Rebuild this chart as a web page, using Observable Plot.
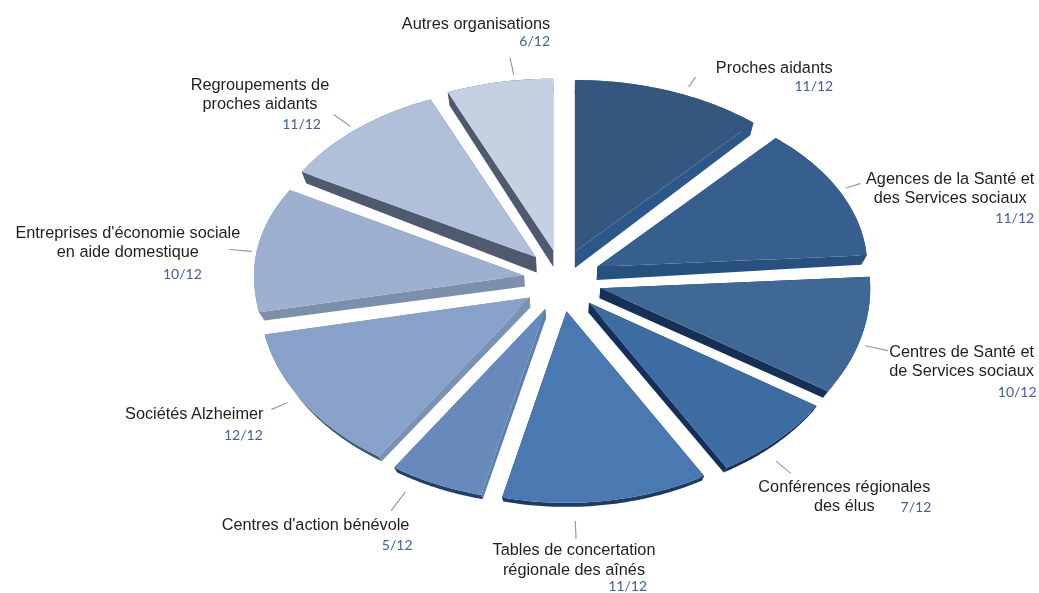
<!DOCTYPE html>
<html lang="fr">
<head>
<meta charset="utf-8">
<script src="https://cdn.jsdelivr.net/npm/d3@7"></script>
<script src="https://cdn.jsdelivr.net/npm/@observablehq/plot@0.6"></script>
<style>
html,body{margin:0;padding:0;background:#fff}
svg{display:block;filter:blur(.35px)}
</style>
</head>
<body>
<div id="chart"></div>
<script>
const names = [
  "Proches aidants",
  "Agences de la Santé et\ndes Services sociaux",
  "Centres de Santé et\nde Services sociaux",
  "Conférences régionales\ndes élus",
  "Tables de concertation\nrégionale des aînés",
  "Centres d'action bénévole",
  "Sociétés Alzheimer",
  "Entreprises d'économie sociale\nen aide domestique",
  "Regroupements de\nproches aidants",
  "Autres organisations"
];
const fractions = ["11/12","11/12","10/12","7/12","11/12","5/12","12/12","10/12","11/12","6/12"];
// apparent width of every slice
const shares = [10.8, 11.7, 9.5, 7, 11.6, 5.3, 11.7, 10.7, 9.7, 6];

const faceColors = ["#34567f","#365f8f","#3f6897","#3d6ca3","#4a79b1","#6889bb","#87a1c9","#9eb0cf","#b1c0da","#c5d0e3"];
const cutColors  = ["#2d5789","#27507e","#152f55","#14305a","#1c3c63","#5d7fae","#7a92b5","#7c8fab","#4f5a6e","#4f5a6e"];
const arcColors  = ["#2d5789","#27507e","#2a4f7c","#14305a","#1c3c63","#20406c","#3f5675","#7c8fab","#4f5a6e","#4f5a6e"];

// layout of the tilted, exploded pie and of its labels
const pie = {cx:560, cy:280, R:270, exEast:41, exWest:37, ey:31, kNorth:.635, kSouth:.71};
const leaderAngle = [23.7, 63.5, 107, 140, 178.3, 208.5, 238.6, 277.9, 318, 351.9];
const leaderFrom = [1.05, 1.03, 1.027, 1.08, 1.097, 1.09, 1.052, 1.02, 1.03, 1.034];
const leaderTo = [1.108, 1.088, 1.113, 1.16, 1.186, 1.195, 1.119, 1.10, 1.118, 1.133];
const nameOffset = [[79,-11],[90,3.5],[74,9.5],[54,22.5],[-2,20.5],[-76,14],[-77.5,4],[-102,-8.5],[-74,-21.5],[-34,-35]];
const fracOffset = [[138,9],[174,35],[149,42],[141,34],[71,48],[21,35],[-9,26],[-28,25],[-13,10],[40,-16]];

const rad = d => d * Math.PI / 180;
const total = d3.sum(shares);
const cum = d3.cumsum(shares);
const starts = shares.map((s,i) => (i ? cum[i-1] : 0) * 360 / total);
const ends = shares.map((s,i) => cum[i] * 360 / total);
const mids = starts.map((a,i) => (a + ends[i]) / 2);

function faceAt(i, theta, r) {
  const m = rad(mids[i]), t = rad(theta), Y = r * Math.cos(t), sm = Math.sin(m);
  return {
    x: pie.cx + (sm > 0 ? pie.exEast : pie.exWest) * sm + pie.R * r * Math.sin(t),
    y: pie.cy - pie.ey * Math.cos(m) - pie.R * Y * (Y > 0 ? pie.kNorth : pie.kSouth)
  };
}
function underAt(i, theta, r) {
  const p = faceAt(i, theta, r), m = rad(mids[i]), Y = r * Math.cos(rad(theta));
  const dy = 9 + 5 * Y + (1 - r) * (1 + 7 * Math.max(0, Math.cos(m)));
  return {x: p.x + .018 * (565 - p.x), y: p.y + dy};
}
const arcAngles = i => d3.range(0, 41).map(k => starts[i] + (ends[i] - starts[i]) * k / 40);

const faceRows = [], sideRows = [], leaderRows = [], nameRows = [], fracRows = [];
names.forEach((name, i) => {
  const angles = arcAngles(i);
  faceRows.push({id:i, name, ...faceAt(i, 0, 0)});
  angles.forEach(a => faceRows.push({id:i, name, ...faceAt(i, a, 1)}));

  // the two cut walls
  [angles[0], angles[40]].forEach((a, w) => {
    const id = `cut-${i}-${w}`, color = cutColors[i];
    [faceAt(i,0,0), faceAt(i,a,1), underAt(i,a,1), underAt(i,0,0)].forEach(p => sideRows.push({id, color, ...p}));
  });
  // the outer rim wall
  const idr = `rim-${i}`;
  angles.forEach(a => sideRows.push({id:idr, color:arcColors[i], ...faceAt(i,a,1)}));
  angles.slice().reverse().forEach(a => sideRows.push({id:idr, color:arcColors[i], ...underAt(i,a,1)}));

  const a0 = faceAt(i, leaderAngle[i], leaderFrom[i]), a1 = faceAt(i, leaderAngle[i], leaderTo[i]);
  leaderRows.push({id:i, ...a0}, {id:i, ...a1});
  nameRows.push({text:name, x:a1.x + nameOffset[i][0], y:a1.y + nameOffset[i][1]});
  fracRows.push({text:fractions[i], x:a1.x + fracOffset[i][0], y:a1.y + fracOffset[i][1]});
});

const chart = Plot.plot({
  width: 1039, height: 593,
  marginTop: 0, marginRight: 0, marginBottom: 0, marginLeft: 0,
  x: {domain:[0,1039], axis:null},
  y: {domain:[593,0], axis:null},
  color: {domain:names, range:faceColors},
  style: {background:"#fff"},
  marks: [
    Plot.line(leaderRows, {x:"x", y:"y", z:"id", stroke:"#9a9a9a", strokeWidth:1.2}),
    Plot.line(sideRows, {x:"x", y:"y", z:"id", fill:"color", stroke:"none"}),
    Plot.line(faceRows, {x:"x", y:"y", z:"id", fill:"name", stroke:"none"}),
    Plot.text(nameRows, {x:"x", y:"y", text:"text", fill:"#1f1f1f", fontFamily:"Liberation Sans", fontSize:16.3, lineHeight:1.17, textAnchor:"middle", lineAnchor:"middle"}),
    Plot.text(fracRows, {x:"x", y:"y", text:"text", fill:"#45609a", fontFamily:"Lato", fontSize:14, textAnchor:"end", lineAnchor:"middle"})
  ]
});
document.getElementById("chart").appendChild(chart);
</script>
</body>
</html>
